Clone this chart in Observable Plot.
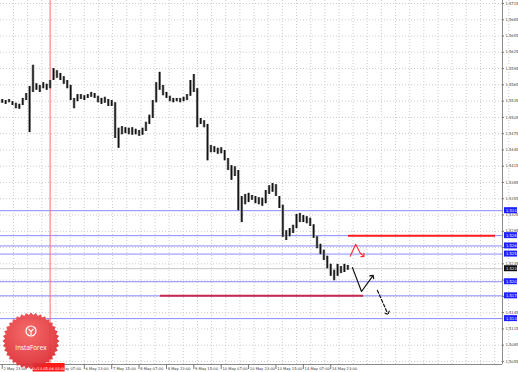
<!DOCTYPE html>
<html><head><meta charset="utf-8">
<script src="https://cdn.jsdelivr.net/npm/d3@7"></script>
<script src="https://cdn.jsdelivr.net/npm/@observablehq/plot@0.6"></script>
<style>
html,body{margin:0;padding:0;background:#fff;}
#wrap{position:relative;width:518px;height:372px;overflow:hidden;background:#fff;}
#logo{position:absolute;left:0;top:310px;}
</style></head><body><div id="wrap"></div>
<script>
// ---- data (hourly bars grouped in 2-hour blocks) ----
const blockHigh = [
1.5538,1.5536,1.5538,1.5534,1.5531,1.5529,1.5540,1.5549,1.5562,1.5601,
1.5567,1.5564,1.5569,1.5566,1.5573,1.5595,1.5591,1.5586,1.5580,1.5573,
1.5564,1.5540,1.5547,1.5547,1.5545,1.5547,1.5551,1.5549,1.5544,1.5540,
1.5542,1.5538,1.5536,1.5532,1.5485,1.5488,1.5486,1.5485,1.5486,1.5483,
1.5481,1.5485,1.5496,1.5509,1.5536,1.5569,1.5588,1.5564,1.5551,1.5544,
1.5540,1.5540,1.5540,1.5542,1.5547,1.5573,1.5584,1.5558,1.5503,1.5499,
1.5492,1.5453,1.5451,1.5448,1.5449,1.5444,1.5429,1.5416,1.5414,1.5407,
1.5359,1.5363,1.5365,1.5361,1.5359,1.5357,1.5356,1.5370,1.5379,1.5383,
1.5381,1.5359,1.5343,1.5296,1.5300,1.5306,1.5326,1.5328,1.5324,1.5322,
1.5319,1.5307,1.5285,1.5271,1.5260,1.5249,1.5234,1.5223,1.5234,1.5230,
1.5234,1.5232];
const blockLow = [
1.5531,1.5529,1.5532,1.5527,1.5521,1.5520,1.5527,1.5536,1.5477,1.5551,
1.5555,1.5551,1.5558,1.5555,1.5558,1.5573,1.5577,1.5573,1.5566,1.5558,
1.5536,1.5521,1.5534,1.5538,1.5536,1.5540,1.5542,1.5540,1.5532,1.5529,
1.5531,1.5525,1.5525,1.5466,1.5448,1.5473,1.5475,1.5473,1.5472,1.5473,
1.5470,1.5472,1.5479,1.5492,1.5503,1.5532,1.5555,1.5545,1.5540,1.5534,
1.5532,1.5534,1.5532,1.5534,1.5536,1.5544,1.5551,1.5486,1.5492,1.5486,
1.5425,1.5440,1.5440,1.5437,1.5438,1.5425,1.5407,1.5389,1.5396,1.5333,
1.5311,1.5344,1.5348,1.5352,1.5346,1.5344,1.5341,1.5346,1.5363,1.5367,
1.5359,1.5337,1.5284,1.5278,1.5285,1.5291,1.5300,1.5311,1.5311,1.5309,
1.5304,1.5282,1.5263,1.5252,1.5241,1.5226,1.5212,1.5204,1.5212,1.5217,
1.5219,1.5223];

// price labels visible on the right axis (1.5265, 1.5205, 1.5175 are hidden under level boxes)
const priceTicks = [1.5055,1.5085,1.5115,1.5145,1.5175,1.5205,1.5235,1.5265,1.5295,1.5325,1.5355,1.5385,
  1.5415,1.5445,1.5475,1.5505,1.5535,1.5565,1.5595,1.5625,1.5655,1.5685,1.5715];
const hiddenPriceLabels = [1.5175,1.5205,1.5265];
const timeBars = [1,33,49,65,81,97,113,129,145,161,177,193];
const timeLabels = ["2 May 23:00","6 May 07:00","6 May 23:00","7 May 15:00","8 May 07:00",
  "8 May 23:00","9 May 15:00","10 May 07:00","10 May 23:00","13 May 15:00","14 May 07:00","14 May 23:00"];
const levels = [1.5333,1.5287,1.5268,1.5253,1.5202,1.5176,1.5134];
const currentPrice = 1.5226;
const crossBar = 29;
const crossLabel = "2013.05.06 03:00";
const segPrice = [1.5287, 1.5176];
const segFrom = [203.4, 93.5];
const segTo = [289.3, 212.2];
const segColor = ["#ff1c1c", "#c8284e"];
const redArrowBar = [204.4, 207.6, 210.2, 212.0], redArrowPrice = [1.5249, 1.5271, 1.5255, 1.5250];
const blackArrowBar = [205.7, 211.0, 217.4], blackArrowPrice = [1.5228, 1.5184, 1.5212];
const dashArrowBar = [220.3, 226.2], dashArrowPrice = [1.5186, 1.5144];

// ---- derived tables ----
const blocks = blockHigh.map((h, i) => ({bar: 2 * i + 1, high: h, low: blockLow[i]}));
const timeTicks = timeBars.map((b, i) => ({bar: b, label: timeLabels[i]}));
const segments = segPrice.map((p, i) => ({price: p, from: segFrom[i], to: segTo[i], color: segColor[i]}));
const toPts = (bs, ps) => bs.map((b, i) => ({bar: b, price: ps[i]}));
const gridBars = d3.range(0, 36).map(k => 7.6 + 8.27 * k);
const shownPriceLabels = priceTicks.filter(p => !hiddenPriceLabels.includes(p));

const xMax = 293.4, yMin = 1.50494, yMax = 1.57205;
const fs = 3.7;

const chart = Plot.plot({
  width: 518, height: 372,
  marginLeft: 0, marginTop: 0, marginRight: 16, marginBottom: 8,
  x: {domain: [0, xMax], axis: null},
  y: {domain: [yMin, yMax], axis: null},
  style: {background: "#fff", fontFamily: "DejaVu Sans", overflow: "visible"},
  marks: [
    Plot.ruleY(priceTicks, {stroke: "#cdcdcd", strokeDasharray: "1,2"}),
    Plot.ruleX(gridBars, {stroke: "#cdcdcd", strokeDasharray: "1,2"}),
    Plot.ruleY([currentPrice], {stroke: "#c6c6c6"}),
    Plot.ruleY(levels, {stroke: "#8a8aff"}),
    Plot.ruleX([crossBar], {stroke: "#ff6a6a"}),
    Plot.ruleX(blocks, {x: "bar", y1: "low", y2: "high", stroke: "#8a8a8a", strokeWidth: 2.6}),
    Plot.ruleX(blocks, {x: "bar", y1: "low", y2: "high", stroke: "#111", strokeWidth: 1.3}),
    Plot.ruleY(segments, {y: "price", x1: "from", x2: "to", stroke: "color", strokeWidth: 2}),
    Plot.line(toPts(redArrowBar, redArrowPrice), {x: "bar", y: "price", stroke: "#ff2a2a", strokeWidth: 1.1, markerEnd: "arrow"}),
    Plot.line(toPts(blackArrowBar, blackArrowPrice), {x: "bar", y: "price", stroke: "#111", strokeWidth: 1.2, markerEnd: "arrow"}),
    Plot.line(toPts(dashArrowBar, dashArrowPrice), {x: "bar", y: "price", stroke: "#111", strokeWidth: 1.2, strokeDasharray: "3,2", markerEnd: "arrow"}),
    // frame
    Plot.ruleX([xMax], {stroke: "#8a8a8a"}),
    Plot.ruleY([yMin], {stroke: "#8a8a8a"}),
    // right axis
    Plot.ruleY(priceTicks, {x1: xMax, x2: xMax, insetRight: -2, stroke: "#777"}),
    Plot.text(shownPriceLabels, {x: xMax, y: d => d, dx: 3, textAnchor: "start", text: d => d.toFixed(4), fontSize: fs, fill: "#333"}),
    Plot.rect(levels, {x1: xMax, x2: xMax, y1: d => d, y2: d => d, insetLeft: 2, insetRight: -15, insetTop: -3, insetBottom: -3, fill: "#2020ff"}),
    Plot.text(levels, {x: xMax, y: d => d, dx: 3.5, textAnchor: "start", text: d => d.toFixed(4), fontSize: fs, fill: "#fff"}),
    Plot.rect([currentPrice], {x1: xMax, x2: xMax, y1: d => d, y2: d => d, insetLeft: 2, insetRight: -15, insetTop: -3, insetBottom: -3, fill: "#111"}),
    Plot.text([currentPrice], {x: xMax, y: d => d, dx: 3.5, textAnchor: "start", text: d => d.toFixed(4), fontSize: fs, fill: "#fff"}),
    // bottom axis
    Plot.ruleX(timeTicks, {x: "bar", y1: yMin, y2: yMin, insetBottom: -5, stroke: "#777"}),
    Plot.text(timeTicks, {x: "bar", y: yMin, dy: 4.6, dx: 1.2, textAnchor: "start", text: "label", fontSize: fs, fill: "#333"}),
    Plot.rect([crossBar], {x1: d => d, x2: d => d, y1: yMin, y2: yMin, insetLeft: -17, insetRight: -15, insetTop: -1, insetBottom: -7.5, fill: "#ff1a1a"}),
    Plot.text([crossBar], {x: d => d, y: yMin, dy: 4.6, dx: -1, textAnchor: "middle", text: () => crossLabel, fontSize: fs, fill: "#fff"})
  ]
});
const wrap = document.getElementById("wrap");
wrap.appendChild(chart);

// ---- InstaForex logo (decoration) ----
const logo = d3.create("svg").attr("id", "logo").attr("width", 62).attr("height", 62);
const defs = logo.append("defs");
const grad = defs.append("radialGradient").attr("id", "lg").attr("cx", "45%").attr("cy", "35%").attr("r", "70%");
grad.append("stop").attr("offset", "0%").attr("stop-color", "#f5605f");
grad.append("stop").attr("offset", "100%").attr("stop-color", "#d9262d");
const cx = 31, cy = 31, n = 36;
const pts = d3.range(n * 2).map(k => {
  const a = Math.PI * k / n, r = k % 2 ? 26 : 28.5;
  return [cx + r * Math.sin(a), cy - r * Math.cos(a)];
});
logo.append("path").attr("d", "M" + pts.join("L") + "Z").attr("fill", "url(#lg)").attr("opacity", 0.93);
logo.append("circle").attr("cx", cx).attr("cy", 21).attr("r", 5).attr("fill", "none").attr("stroke", "#fff").attr("stroke-width", 1.2);
logo.append("path").attr("d", `M${cx-2.5},19 L${cx},21.5 L${cx+2.5},19 M${cx},21.5 L${cx},25`).attr("stroke", "#fff").attr("stroke-width", 1.1).attr("fill", "none");
logo.append("text").attr("x", cx).attr("y", 39.5).attr("text-anchor", "middle").attr("fill", "#fff")
  .attr("font-family", "Open Sans").attr("font-size", 6.4).text("InstaForex");
wrap.appendChild(logo.node());
</script></body></html>
